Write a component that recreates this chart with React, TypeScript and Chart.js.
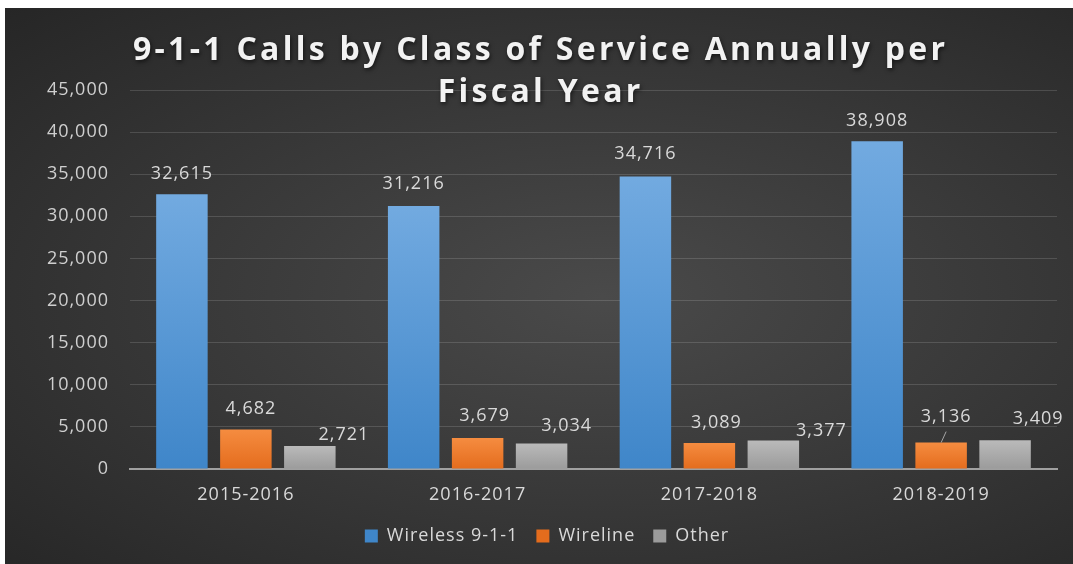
import React, { useEffect, useRef } from "react";
import { Chart, registerables } from "chart.js";

Chart.register(...registerables);

// ---------------- data ----------------
const CATEGORIES = ["2015-2016", "2016-2017", "2017-2018", "2018-2019"];
const SERIES_NAMES = ["Wireless 9-1-1", "Wireline", "Other"];
const WIRELESS = [32615, 31216, 34716, 38908];
const WIRELINE = [4682, 3679, 3089, 3136];
const OTHER = [2721, 3034, 3377, 3409];
const Y_MIN = 0;
const Y_MAX = 45000;
const Y_STEP = 5000;
const TITLE_LINES = ["9-1-1 Calls by Class of Service Annually per", "Fiscal Year"];

// ---------------- styling ----------------
const FONT = '"Open Sans", "Noto Sans", sans-serif';
const TEXT = "#d9d9d9";
const COLORS = [
  { flat: "#5b9bd5", top: "#72aae0", bottom: "#3f86c9" },
  { flat: "#ed7d31", top: "#f58c40", bottom: "#e46c1d" },
  { flat: "#a5a5a5", top: "#bababa", bottom: "#9b9b9b" },
];
// data-label nudges (px, relative to the bar-top centre), as placed in the original
const NUDGE_WIRELESS = [[0, -20], [0, -22], [0, -23], [0, -20]];
const NUDGE_WIRELINE = [[5, -21], [7, -22], [7, -20], [5, -26]];
const NUDGE_OTHER = [[34, -11], [25, -18], [48, -10], [33, -21]];
const LEADER_WIRELINE = [false, false, false, true];

const NUDGES = [NUDGE_WIRELESS, NUDGE_WIRELINE, NUDGE_OTHER];
const LEADERS = [[false, false, false, false], LEADER_WIRELINE, [false, false, false, false]];

const barFill = (c: { flat: string; top: string; bottom: string }) => (ctx: any) => {
  if (ctx.type !== "data") return c.flat;
  const chart = ctx.chart;
  const y = chart.scales && chart.scales.y;
  if (!chart.chartArea || !y) return c.flat;
  const top = y.getPixelForValue(ctx.raw as number);
  const bottom = y.getPixelForValue(0);
  if (!isFinite(top) || !isFinite(bottom) || bottom - top < 1) return c.flat;
  const g = chart.ctx.createLinearGradient(0, top, 0, bottom);
  g.addColorStop(0, c.top);
  g.addColorStop(1, c.bottom);
  return g;
};

const spacingPlugin = {
  id: "spacing",
  beforeUpdate(chart: any) {
    chart.ctx.letterSpacing = "1px";
  },
  beforeDraw(chart: any) {
    chart.ctx.letterSpacing = "1px";
  },
};

const dataLabelPlugin = {
  id: "dataLabels",
  afterDatasetsDraw(chart: any) {
    const ctx = chart.ctx;
    ctx.save();
    ctx.letterSpacing = "1px";
    ctx.font = `18px ${FONT}`;
    ctx.fillStyle = TEXT;
    ctx.textAlign = "center";
    ctx.textBaseline = "middle";
    chart.data.datasets.forEach((ds: any, i: number) => {
      const meta = chart.getDatasetMeta(i);
      meta.data.forEach((el: any, j: number) => {
        const [dx, dy] = NUDGES[i][j];
        const x = el.x + dx;
        const y = el.y + dy;
        ctx.fillText(Number(ds.data[j]).toLocaleString("en-US"), x, y);
        if (LEADERS[i][j]) {
          ctx.save();
          ctx.strokeStyle = "#a6a6a6";
          ctx.lineWidth = 1;
          ctx.beginPath();
          ctx.moveTo(x, y + 15);
          ctx.lineTo(el.x, el.y);
          ctx.stroke();
          ctx.restore();
        }
      });
    });
    ctx.restore();
  },
};

const titlePlugin = {
  id: "bigTitle",
  afterDraw(chart: any) {
    const ctx = chart.ctx;
    ctx.save();
    ctx.font = `bold 32px ${FONT}`;
    ctx.textAlign = "center";
    ctx.textBaseline = "alphabetic";
    ctx.fillStyle = "#f2f2f2";
    ctx.shadowColor = "rgba(0,0,0,0.6)";
    ctx.shadowBlur = 4;
    ctx.shadowOffsetX = 1;
    ctx.shadowOffsetY = 2;
    ctx.letterSpacing = "0px";
    const w0 = ctx.measureText(TITLE_LINES[0]).width;
    const sp = Math.max(0, (812 - w0) / (TITLE_LINES[0].length - 1));
    ctx.letterSpacing = `${sp.toFixed(2)}px`;
    const cx = 534 + sp / 2;
    ctx.fillText(TITLE_LINES[0], cx, 52);
    ctx.fillText(TITLE_LINES[1], cx, 94);
    ctx.restore();
  },
};

export default function App() {
  const ref = useRef<HTMLCanvasElement | null>(null);

  useEffect(() => {
    if (!ref.current) return;
    Chart.defaults.font.family = FONT;
    const seriesValues = [WIRELESS, WIRELINE, OTHER];
    const chart = new Chart(ref.current, {
      type: "bar",
      data: {
        labels: CATEGORIES,
        datasets: SERIES_NAMES.map((name, i) => ({
          label: name,
          data: seriesValues[i],
          backgroundColor: barFill(COLORS[i]) as any,
          borderWidth: 0,
          categoryPercentage: 0.828,
          barPercentage: 0.805,
        })),
      },
      options: {
        animation: false,
        responsive: false,
        devicePixelRatio: 1,
        layout: { padding: { top: 82, right: 16, bottom: 9, left: 32 } },
        plugins: {
          legend: {
            position: "bottom",
            labels: {
              boxWidth: 13,
              boxHeight: 13,
              color: TEXT,
              font: { family: FONT, size: 18 },
              padding: 18,
            },
          },
          title: { display: false },
          tooltip: { enabled: false },
        },
        scales: {
          x: {
            grid: { display: false, drawTicks: false },
            border: { display: true, color: "#a0a0a0", width: 2 },
            ticks: { color: TEXT, font: { family: FONT, size: 18 }, padding: 15 },
            afterFit: (s: any) => {
              s.height = 40;
            },
          },
          y: {
            min: Y_MIN,
            max: Y_MAX,
            ticks: {
              stepSize: Y_STEP,
              color: "#cfcfcf",
              font: { family: FONT, size: 18 },
              padding: 21,
              callback: (v: any) => Number(v).toLocaleString("en-US"),
            },
            grid: { color: "rgba(255,255,255,0.14)", lineWidth: 1, drawTicks: false },
            border: { display: false },
            afterFit: (s: any) => {
              s.width = 93;
            },
          },
        },
      },
      plugins: [spacingPlugin, dataLabelPlugin, titlePlugin],
    });
    return () => chart.destroy();
  }, []);

  return (
    <div
      style={{
        position: "absolute",
        left: 5,
        top: 8,
        width: 1068,
        height: 556,
        background:
          "radial-gradient(ellipse farthest-corner at 56% 52%, #4a4a4a 0%, #3a3a3a 45%, #262626 100%)",
      }}
    >
      <canvas ref={ref} width={1068} height={556} style={{ display: "block" }} />
    </div>
  );
}
